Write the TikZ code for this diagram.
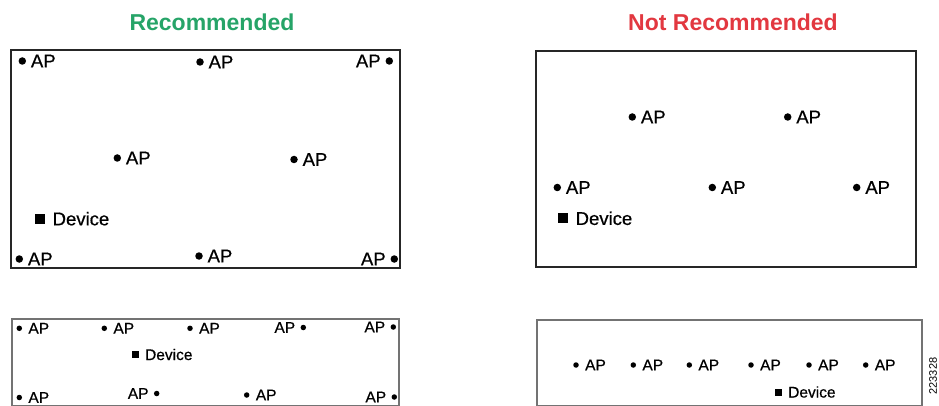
\documentclass[tikz,border=0pt]{standalone}
\usepackage{fontspec}
\setmainfont{Liberation Sans}
\newfontfamily\heavysans[FakeBold=0.6]{Liberation Sans}
\usepackage{xcolor}
\usepackage{tikz}
\usetikzlibrary{positioning}

\definecolor{recgreen}{RGB}{38,164,104}
\definecolor{notred}{RGB}{226,56,64}

\begin{document}
\begin{tikzpicture}[x=1pt, y=-1pt,
    room/.style={draw=black!85, line width=1.4pt},
    smallroom/.style={draw=black!55, line width=1.2pt},
    apdot/.style={circle, fill=black, inner sep=0pt, minimum size=7.5pt},
    smalldot/.style={circle, fill=black, inner sep=0pt, minimum size=5.5pt},
    devbox/.style={rectangle, fill=black, inner sep=0pt, minimum size=10pt},
    smalldev/.style={rectangle, fill=black, inner sep=0pt, minimum size=7pt},
    aptext/.style={inner sep=0pt, font=\heavysans\fontsize{18.5}{20}\selectfont},
    smalltext/.style={inner sep=0pt, font=\heavysans\fontsize{15.5}{17}\selectfont},
    title/.style={inner sep=0pt, font=\fontsize{23}{25}\selectfont\bfseries}]
    \useasboundingbox (0,0) rectangle (939,406);

    % titles
    \node[title, text=recgreen] (rec) at (212,22) {Recommended};
    \node[title, text=notred] (notrec) at (733,22) {Not Recommended};

    % rooms
    \draw[room] (11,50) rectangle (400,268);
    \draw[room] (536,51) rectangle (916,267);
    \draw[smallroom] (12,319) rectangle (399,406);
    \draw[smallroom] (537,320) rectangle (922,406);

    % recommended, large room
    \foreach \n/\x/\y in {1/22.3/61, 2/200/62, 4/117.3/158, 5/294/159.5, 6/19.3/259, 7/199/256}
        \node[apdot] (ra\n) at (\x,\y) {} node[aptext, right=4.5pt of ra\n] (rt\n) {AP};
    \foreach \n/\x/\y in {3/389.3/61, 8/394.3/259}
        \node[apdot] (ra\n) at (\x,\y) {} node[aptext, left=4.5pt of ra\n] (rt\n) {AP};
    \node[devbox] (rdev) at (40.3,218.7) {};
    \node[aptext, right=7pt of rdev] (rdevt) {Device};

    % not recommended, large room
    \foreach \n/\x/\y in {1/632.3/117, 2/787.7/117, 3/557.3/187.5, 4/712.3/187.5, 5/856.7/187.5}
        \node[apdot] (na\n) at (\x,\y) {} node[aptext, right=4.5pt of na\n] (nt\n) {AP};
    \node[devbox] (ndev) at (563.3,218.3) {};
    \node[aptext, right=7pt of ndev] (ndevt) {Device};

    % recommended, narrow room
    \foreach \n/\x/\y in {1/19.3/328.3, 2/104.3/328.3, 3/190/328.3, 6/19.3/397.5, 8/246.7/395}
        \node[smalldot] (sa\n) at (\x,\y) {} node[smalltext, right=6pt of sa\n] (st\n) {AP};
    \foreach \n/\x/\y in {4/303.3/327.5, 5/393.3/327, 7/156.7/393.5, 9/394.3/397}
        \node[smalldot] (sa\n) at (\x,\y) {} node[smalltext, left=5pt of sa\n] (st\n) {AP};
    \node[smalldev] (sdev) at (135.7,354.5) {};
    \node[smalltext, right=5.5pt of sdev] (sdevt) {Device};

    % not recommended, narrow room
    \foreach \n/\x in {1/576, 2/633.3, 3/689.3, 4/751, 5/809, 6/865.7}
        \node[smalldot] (ma\n) at (\x,365) {} node[smalltext, right=6pt of ma\n] (mt\n) {AP};
    \node[smalldev] (mdev) at (778.3,392) {};
    \node[smalltext, right=6pt of mdev] (mdevt) {Device};

    % figure number
    \node[inner sep=0pt, rotate=90, font=\fontsize{11}{12}\selectfont] (fignum) at (933,376) {223328};
\end{tikzpicture}
\end{document}
